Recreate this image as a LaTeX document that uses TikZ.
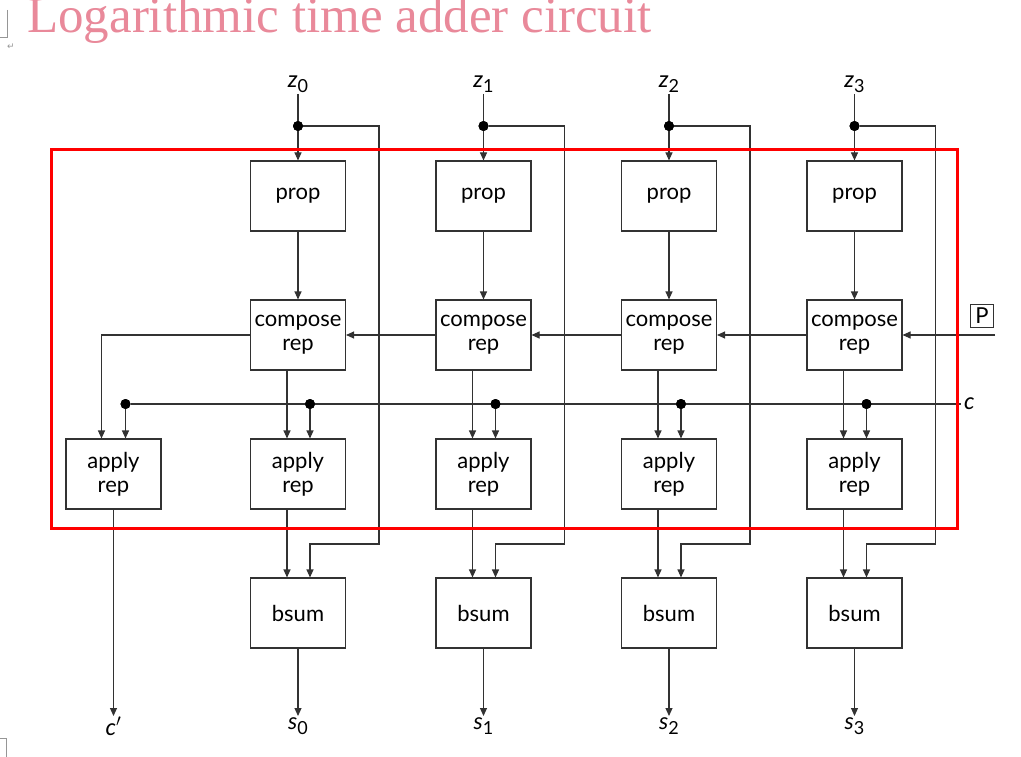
\documentclass[tikz,border=0pt]{standalone}
\usepackage{fontspec}
\setmainfont{Lato}
\newfontfamily\titlefont{Liberation Serif}
\newfontfamily\symfont{DejaVu Sans}
\usetikzlibrary{arrows.meta}
\definecolor{linec}{RGB}{50,50,50}
\definecolor{titlepink}{RGB}{233,137,154}
\definecolor{markgrey}{RGB}{150,150,150}
\newcommand\lab[2]{{\itshape #1}\raisebox{-0.22em}{\fontsize{18}{18}\selectfont #2}}
\tikzset{
  blk/.style={draw=linec, line width=1.1pt, minimum width=95pt, minimum height=70pt,
    align=center, inner sep=0pt, font=\fontsize{22}{24}\selectfont},
  wire/.style={draw=linec, line width=1.1pt},
  arr/.style={wire, -{Triangle[length=8pt,width=7pt]}},
  jdot/.style={circle, fill=black, inner sep=0pt, minimum size=10pt},
  lbl/.style={inner sep=1pt, font=\fontsize{23}{23}\selectfont},
}
\begin{document}
\begin{tikzpicture}[x=1pt,y=-1pt]
\useasboundingbox (0,0) rectangle (1021,757);
\fill[white] (0,0) rectangle (1021,757);
% page marks
\draw[markgrey, line width=0.8pt] (7,10) -- (7,37) -- (0,37);
\draw[markgrey, line width=0.8pt] (0,738) -- (6,738) -- (6,757);
\node[text=markgrey, font=\symfont\fontsize{9}{9}\selectfont, inner sep=0pt] (ret) at (11,47) {↵};
% title
\node[anchor=base west, inner sep=0pt, text=titlepink,
  font=\titlefont\fontsize{51}{51}\selectfont] (title) at (27,33) {Logarithmic time adder circuit};

% left apply
\node[blk] (appL) at (113.5,474) {apply\\rep};
\node[lbl, anchor=north] (cp) at (113.5,716) {{\itshape c}$'$};
\draw[arr] (appL) -- (cp);

\foreach \i in {0,1,2,3} {
  \pgfmathsetmacro{\cx}{298+185.5*\i}
  \node[lbl, anchor=south] (z\i) at (\cx,94) {\lab{z}{\i}};
  \node[jdot] (d\i) at (\cx,126) {};
  \node[blk] (prop\i) at (\cx,196) {prop};
  \node[blk] (comp\i) at (\cx,335) {compose\\rep};
  \node[blk] (app\i) at (\cx,474) {apply\\rep};
  \node[blk] (bsum\i) at (\cx,613) {bsum};
  \node[jdot] (cd\i) at (\cx+12,404) {};
  \node[lbl, anchor=north] (s\i) at (\cx,716) {\lab{s}{\i}};
  \coordinate (r\i) at (\cx+81,544);
  \draw[wire] (z\i) -- (d\i);
  \draw[arr] (d\i) -- (prop\i);
  \draw[arr] (d\i) -| (r\i) -| ([xshift=12pt]bsum\i.north);
  \draw[arr] (prop\i) -- (comp\i);
  \draw[arr] ([xshift=-11pt]comp\i.south) -- ([xshift=-11pt]app\i.north);
  \draw[arr] ([xshift=-11pt]app\i.south) -- ([xshift=-11pt]bsum\i.north);
  \draw[arr] (cd\i) -- ([xshift=12pt]app\i.north);
  \draw[arr] (bsum\i) -- (s\i);
}
% compose chain
\draw[arr] (comp3.west) -- (comp2.east);
\draw[arr] (comp2.west) -- (comp1.east);
\draw[arr] (comp1.west) -- (comp0.east);
\draw[arr] (comp0.west) -| ([xshift=-12pt]appL.north);
% P input
\node[draw=linec, line width=0.9pt, inner sep=1.5pt, font=\fontsize{22}{22}\selectfont, minimum width=23pt, minimum height=23pt] (P) at (982,316) {P};
\coordinate (pin) at (995,335);
\draw[arr] (pin) -- (comp3.east);
% c line
\node[jdot] (cdL) at (125.5,404) {};
\node[lbl, anchor=west, inner sep=3pt] (c) at (961,404) {\itshape c};
\draw[wire] (cdL) -- (c.west);
\draw[arr] (cdL) -- ([xshift=12pt]appL.north);
% re-draw dots on top
\foreach \i in {0,1,2,3} { \node[jdot] at (d\i) {}; \node[jdot] at (cd\i) {}; }
\node[jdot] at (cdL) {};
% red frame
\draw[red, line width=3pt] (51,150) rectangle (957,528);
\end{tikzpicture}
\end{document}
